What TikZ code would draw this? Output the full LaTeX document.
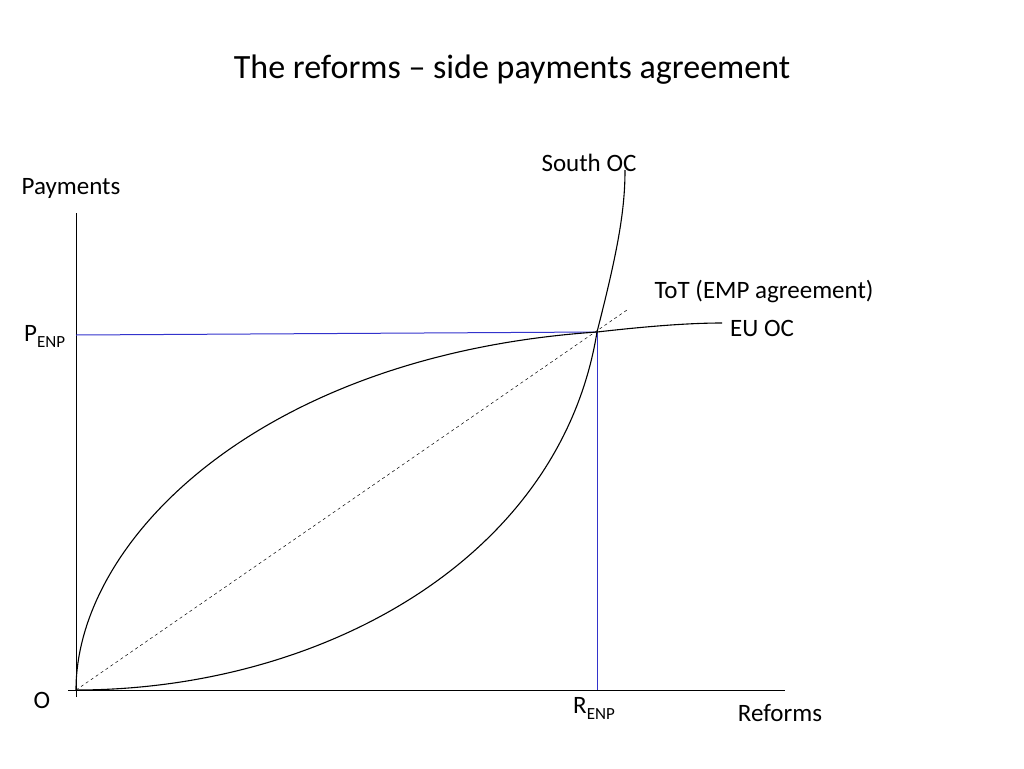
\documentclass[tikz,border=0pt]{standalone}
\usepackage{fontspec}
\setmainfont{Carlito}
\usetikzlibrary{positioning}
\newcommand{\lowsub}[1]{\raisebox{-6pt}{\fontsize{17}{20}\selectfont #1}}
\begin{document}
\begin{tikzpicture}[x=1pt,y=-1pt]
\tikzset{lbl/.style={font=\fontsize{25}{30}\selectfont,inner sep=0pt},
	guide/.style={draw=blue!60!gray,line width=1pt},
	curve/.style={draw=black,line width=1.1pt}}
\useasboundingbox (0,0) rectangle (1024,768);

\node[lbl,font=\fontsize{34}{40}\selectfont] (title) at (512,70) {The reforms -- side payments agreement};

\coordinate (o) at (76,690);
\coordinate (e) at (597,332);
\coordinate (ytop) at (76,213);
\coordinate (xend) at (785,690);

\draw[line width=0.9pt] (76,697) -- (ytop);
\draw[line width=0.9pt] (68,690) -- (xend);

\draw[guide] (76,335) -- (e);
\draw[guide] (e) -- (597,690);

\draw[dashed,line width=0.5pt] (o) -- (627,310);

\draw[curve] (o) .. controls (76,540) and (260,355) .. (e) .. controls (650,326) and (690,323) .. (722,323);
\draw[curve] (o) .. controls (320,690) and (560,560) .. (e) .. controls (618,250) and (625,210) .. (625,170);

\node[lbl] (olab) at (42,700) {O};
\node[lbl] (pay) at (71,188) {Payments};
\node[lbl,anchor=west] (penp) at (24,336) {P\lowsub{ENP}};
\node[lbl,anchor=west] (renp) at (573,708) {R\lowsub{ENP}};
\node[lbl] (ref) at (780,713) {Reforms};
\node[lbl] (south) at (589,163) {South OC};
\node[lbl] (tot) at (764,292) {ToT (EMP agreement)};
\node[lbl] (eu) at (762,328) {EU OC};
\end{tikzpicture}
\end{document}
